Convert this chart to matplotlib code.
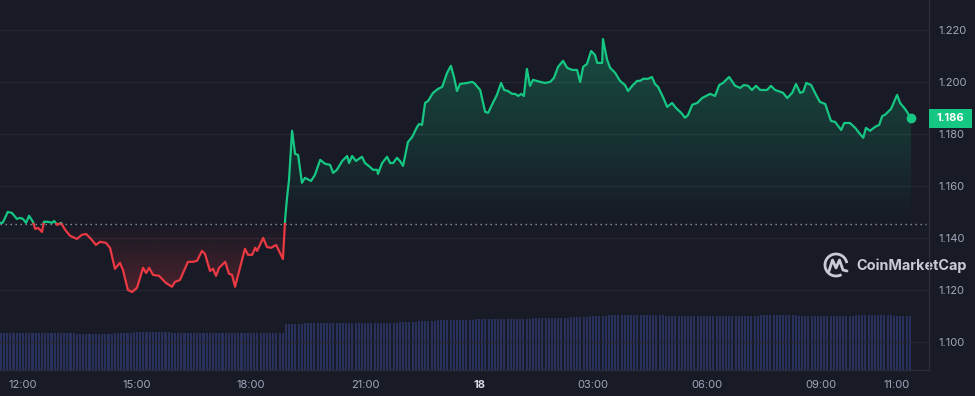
import numpy as np
import matplotlib
matplotlib.use("Agg")
import matplotlib.pyplot as plt
from matplotlib.patches import Polygon, Rectangle, Arc
from matplotlib.colors import to_rgb
from matplotlib.transforms import blended_transform_factory

# hours since 12:00 on the 17th
hours = [
    -0.61, -0.53, -0.40, -0.29, -0.16, -0.08, 0.00, 0.08, 0.16, 0.26, 0.32, 0.40, 0.50, 0.55, 0.66, 0.76,
    0.82, 0.90, 1.00, 1.11, 1.24, 1.42, 1.55, 1.66, 1.79, 1.92, 2.03, 2.18, 2.29, 2.42, 2.55, 2.63,
    2.76, 2.87, 3.00, 3.16, 3.24, 3.32, 3.42, 3.58, 3.76, 3.92, 4.00, 4.13, 4.34, 4.47, 4.58, 4.71,
    4.79, 4.92, 5.00, 5.08, 5.16, 5.32, 5.42, 5.50, 5.58, 5.84, 5.92, 6.03, 6.11, 6.16, 6.32, 6.42,
    6.53, 6.66, 6.84, 6.90, 6.95, 7.00, 7.08, 7.16, 7.24, 7.34, 7.42, 7.58, 7.68, 7.82, 7.95, 8.08,
    8.16, 8.26, 8.40, 8.53, 8.58, 8.66, 8.76, 8.92, 9.00, 9.13, 9.21, 9.32, 9.34, 9.45, 9.58, 9.66,
    9.74, 9.84, 9.92, 10.00, 10.13, 10.24, 10.37, 10.42, 10.50, 10.58, 10.66, 10.79, 10.92, 11.03, 11.16, 11.26,
    11.34, 11.42, 11.50, 11.68, 11.82, 11.87, 12.03, 12.16, 12.24, 12.34, 12.47, 12.58, 12.66, 12.76, 12.87, 12.95,
    13.03, 13.11, 13.18, 13.26, 13.34, 13.42, 13.61, 13.74, 13.87, 13.97, 14.08, 14.21, 14.32, 14.45, 14.58, 14.66,
    14.74, 14.84, 14.95, 15.05, 15.11, 15.24, 15.26, 15.37, 15.45, 15.58, 15.71, 15.84, 15.92, 16.05, 16.16, 16.24,
    16.32, 16.45, 16.55, 16.63, 16.71, 16.84, 16.95, 17.08, 17.18, 17.32, 17.42, 17.50, 17.61, 17.74, 17.87, 18.08,
    18.21, 18.32, 18.42, 18.58, 18.74, 18.87, 18.97, 19.08, 19.18, 19.29, 19.40, 19.58, 19.68, 19.79, 19.92, 20.00,
    20.11, 20.24, 20.34, 20.45, 20.53, 20.61, 20.74, 20.84, 20.97, 21.11, 21.26, 21.37, 21.53, 21.61, 21.76, 21.90,
    22.00, 22.11, 22.18, 22.29, 22.42, 22.53, 22.61, 22.68, 22.84, 23.00, 23.08, 23.21, 23.37,
]
price = [
    1.1457, 1.1459, 1.1500, 1.1496, 1.1473, 1.1477, 1.1473, 1.1458, 1.1485, 1.1462, 1.1435, 1.1438, 1.1423, 1.1462, 1.1462, 1.1458,
    1.1465, 1.1450, 1.1458, 1.1431, 1.1408, 1.1396, 1.1412, 1.1415, 1.1396, 1.1373, 1.1385, 1.1381, 1.1362, 1.1281, 1.1304, 1.1277,
    1.1200, 1.1192, 1.1208, 1.1285, 1.1265, 1.1285, 1.1258, 1.1254, 1.1227, 1.1212, 1.1231, 1.1238, 1.1308, 1.1308, 1.1312, 1.1350,
    1.1338, 1.1273, 1.1281, 1.1254, 1.1285, 1.1308, 1.1262, 1.1258, 1.1212, 1.1358, 1.1335, 1.1335, 1.1362, 1.1350, 1.1400, 1.1365,
    1.1362, 1.1373, 1.1319, 1.1477, 1.1558, 1.1623, 1.1812, 1.1723, 1.1719, 1.1612, 1.1631, 1.1619, 1.1642, 1.1700, 1.1685, 1.1681,
    1.1650, 1.1662, 1.1696, 1.1715, 1.1688, 1.1715, 1.1696, 1.1712, 1.1688, 1.1673, 1.1662, 1.1662, 1.1646, 1.1688, 1.1712, 1.1688,
    1.1688, 1.1708, 1.1696, 1.1677, 1.1769, 1.1788, 1.1827, 1.1838, 1.1835, 1.1919, 1.1927, 1.1958, 1.1973, 1.1981, 1.2035, 1.2062,
    1.2019, 1.1965, 1.1992, 1.1996, 1.2000, 1.1996, 1.1969, 1.1885, 1.1881, 1.1912, 1.1950, 1.1996, 1.1969, 1.1965, 1.1954, 1.1954,
    1.1946, 1.1954, 1.1946, 1.2050, 1.1985, 1.2008, 1.2000, 1.1996, 1.2000, 1.2015, 1.2058, 1.2081, 1.2054, 1.2046, 1.2046, 1.2000,
    1.2058, 1.2069, 1.2119, 1.2104, 1.2073, 1.2073, 1.2165, 1.2085, 1.2054, 1.2035, 1.2004, 1.1988, 1.1965, 1.1988, 1.2004, 1.2004,
    1.2012, 1.2012, 1.2019, 1.1992, 1.1981, 1.1942, 1.1904, 1.1919, 1.1900, 1.1881, 1.1862, 1.1873, 1.1912, 1.1919, 1.1938, 1.1954,
    1.1946, 1.1988, 1.1996, 1.2019, 1.1985, 1.1977, 1.1988, 1.1985, 1.1969, 1.1985, 1.1969, 1.1969, 1.1985, 1.1969, 1.1962, 1.1958,
    1.1938, 1.1958, 1.1992, 1.1958, 1.1962, 1.1996, 1.1988, 1.1958, 1.1923, 1.1915, 1.1850, 1.1846, 1.1815, 1.1842, 1.1842, 1.1823,
    1.1804, 1.1785, 1.1823, 1.1812, 1.1827, 1.1835, 1.1869, 1.1873, 1.1896, 1.1950, 1.1919, 1.1896, 1.1860,
]
open_price = 1.1454
last_price = 1.186
last_label = "1.186"

# volume, one value per half hour (5-min bars inside repeat it)
volume = [
    370, 370, 370, 370, 360, 360, 370, 380, 380, 370, 370, 370, 370, 370, 370, 460,
    470, 470, 470, 470, 470, 480, 490, 500, 500, 510, 510, 510, 520, 520, 530, 540,
    550, 550, 550, 540, 540, 540, 540, 540, 550, 550, 540, 540, 540, 550, 550, 540,
]

x_ticks = [0, 3, 6, 9, 12, 15, 18, 21, 23]
x_labels = ["12:00", "15:00", "18:00", "21:00", "18", "03:00", "06:00", "09:00", "11:00"]
y_ticks = [1.100, 1.120, 1.140, 1.160, 1.180, 1.200, 1.220]

BG = "#181a25"
GREEN = "#16c784"
RED = "#ea3943"
GRID = "#252733"
TXT = "#a1a7bb"
FONT = ["Inter", "DejaVu Sans"]

plt.rcParams["font.family"] = FONT

fig = plt.figure(figsize=(9.75, 3.96), dpi=100, facecolor=BG)
rect = [0, 26 / 396, 929 / 975, 370 / 396]
ax = fig.add_axes(rect)
axv = ax.twinx()
ax.set_zorder(2)
axv.set_zorder(1)
ax.patch.set_visible(False)
axv.set_facecolor(BG)

# volume bars
vol = np.repeat(volume, 6)
tv = hours[0] + np.arange(len(vol)) / 12
axv.bar(tv, vol, width=0.65 / 12, align="edge", color="#28315c", linewidth=0)
axv.set_ylim(0, 3700)
axv.set_yticks([])
for s in axv.spines.values():
    s.set_visible(False)

# split line at the opening price
t = np.array(hours)
p = np.array(price)
tt, pp = [t[0]], [p[0]]
for i in range(1, len(t)):
    d0, d1 = p[i - 1] - open_price, p[i] - open_price
    if d0 * d1 < 0:
        f = d0 / (d0 - d1)
        tt.append(t[i - 1] + f * (t[i] - t[i - 1]))
        pp.append(open_price)
    tt.append(t[i])
    pp.append(p[i])
tt = np.array(tt)
pp = np.array(pp)
base = np.full_like(pp, open_price)


def gradient_fill(upper, lower, color, a_bottom, a_top, y0, y1):
    verts = np.column_stack([np.r_[tt, tt[::-1]], np.r_[upper, lower[::-1]]])
    patch = Polygon(verts, closed=True, facecolor="none", edgecolor="none")
    ax.add_patch(patch)
    img = np.zeros((256, 1, 4))
    img[..., :3] = to_rgb(color)
    img[:, 0, 3] = np.linspace(a_bottom, a_top, 256)
    im = ax.imshow(img, aspect="auto", origin="lower", zorder=2,
                   extent=[tt[0], tt[-1], y0, y1], interpolation="bilinear")
    im.set_clip_path(patch)


gradient_fill(np.maximum(pp, open_price), base, GREEN, 0.0, 0.3, open_price, pp.max())
gradient_fill(base, np.minimum(pp, open_price), RED, 0.25, 0.0, pp.min(), open_price)

ax.plot(tt, np.where(pp >= open_price, pp, np.nan), color=GREEN, lw=1.6, zorder=4,
        solid_joinstyle="round")
ax.plot(tt, np.where(pp <= open_price, pp, np.nan), color=RED, lw=1.6, zorder=4,
        solid_joinstyle="round")
ax.plot(hours[-1], price[-1], "o", ms=6, color=GREEN, zorder=5)

ax.axhline(open_price, xmax=926 / 929, color="#9096a6", lw=1, dashes=(1, 2.6), zorder=3)

ax.set_xlim(-0.605, 23.84)
ax.set_ylim(1.0892, 1.2315)

ax.yaxis.tick_right()
ax.set_yticks(y_ticks)
ax.set_yticklabels([f"{v:.3f}" for v in y_ticks])
ax.set_xticks(x_ticks)
ax.set_xticklabels(x_labels)
ax.tick_params(axis="y", length=0, pad=6.5, labelsize=8, labelcolor=TXT)
ax.tick_params(axis="x", length=0, pad=7, labelsize=8, labelcolor=TXT)
for lab in ax.get_xticklabels():
    if lab.get_text() == "18":
        lab.set_fontweight("bold")
        lab.set_color("#d5d8e0")
ax.yaxis.grid(True, color=GRID, lw=0.9)
ax.set_axisbelow(True)
for k in ["top", "left"]:
    ax.spines[k].set_visible(False)
for k in ["right", "bottom"]:
    ax.spines[k].set_color("#2a2c38")
    ax.spines[k].set_linewidth(0.9)

# last price tag
tr = blended_transform_factory(ax.transAxes, ax.transData)
ax.add_patch(Rectangle((1.0, last_price - 0.0037), 43 / 929, 0.0074, transform=tr,
                       facecolor=GREEN, edgecolor="none", clip_on=False, zorder=6))
ax.text(1.0 + 21.5 / 929, last_price, last_label, transform=tr, ha="center", va="center",
        fontsize=8, fontweight="bold", color="white", zorder=7, clip_on=False)

# watermark in pixel coordinates
ov = fig.add_axes([0, 0, 1, 1])
ov.set_xlim(0, 975)
ov.set_ylim(396, 0)
ov.axis("off")
ov.patch.set_visible(False)
wm = "#c9ccd4"
ov.add_patch(Arc((836, 265), 22, 22, theta1=60, theta2=350, color=wm, lw=2))
ov.plot([829, 832.5, 836, 839.5, 843, 847], [271, 260, 268, 260, 270, 271], color=wm, lw=2,
        solid_joinstyle="round", solid_capstyle="round")
ov.text(856, 266, "CoinMarketCap", ha="left", va="center", fontsize=10.4, fontweight="bold",
        color=wm)

fig.savefig("out.png", dpi=100, facecolor=BG)
